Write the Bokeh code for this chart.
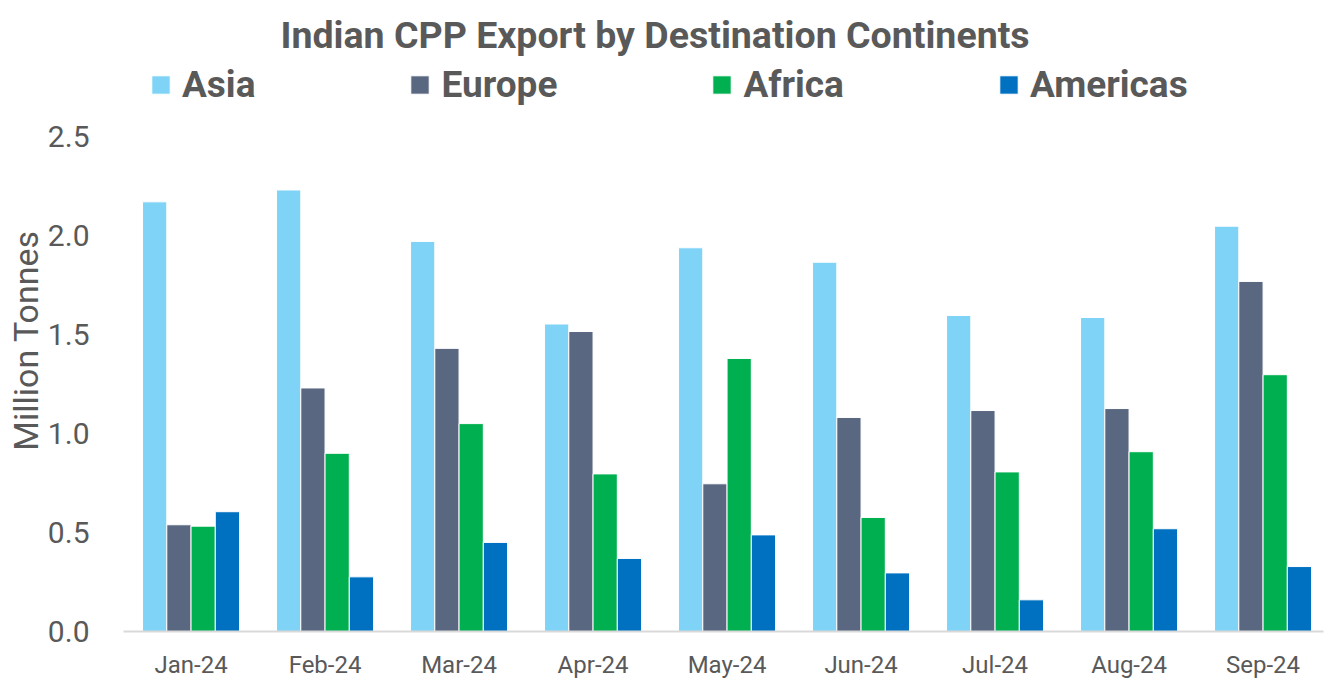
from bokeh.plotting import figure
from bokeh.models import (ColumnDataSource, Range1d, FixedTicker, Legend, LegendItem,
                          PrintfTickFormatter)
from bokeh.transform import dodge
from bokeh.embed import file_html
from bokeh.resources import INLINE

months = ["Jan-24", "Feb-24", "Mar-24", "Apr-24", "May-24", "Jun-24", "Jul-24", "Aug-24", "Sep-24"]
series_names = ["Asia", "Europe", "Africa", "Americas"]
asia = [2.17, 2.23, 1.97, 1.553, 1.938, 1.865, 1.596, 1.586, 2.047]
europe = [0.539, 1.23, 1.43, 1.515, 0.746, 1.081, 1.116, 1.126, 1.768]
africa = [0.532, 0.90, 1.05, 0.796, 1.379, 0.576, 0.806, 0.908, 1.297]
americas = [0.605, 0.276, 0.45, 0.369, 0.488, 0.296, 0.16, 0.519, 0.328]
y_ticks = [0.0, 0.5, 1.0, 1.5, 2.0, 2.5]

colors = ["#7FD3F7", "#596780", "#00B050", "#0070C0"]
TXT = "#595959"

source = ColumnDataSource(dict(idx=list(range(len(months))), month=months, Asia=asia,
                               Europe=europe, Africa=africa, Americas=americas))

p = figure(width=1327, height=683, output_backend="svg", toolbar_location=None,
           x_range=Range1d(-0.504, 8.451), y_range=Range1d(0, 2.9394),
           min_border_left=123, min_border_right=4, min_border_bottom=52, min_border_top=49)

p.title.text = "Indian CPP Export by Destination Continents"
p.title.align = "left"
p.title.offset = 157
p.title.standoff = -14
p.title.text_font = "Roboto"
p.title.text_font_style = "bold"
p.title.text_font_size = "37.5px"
p.title.text_color = TXT

w = 0.181
items = []
for k, (name, c) in enumerate(zip(series_names, colors)):
    r = p.vbar(x=dodge("idx", (k - 1.5) * w, range=p.x_range), top=name, width=w,
               source=source, fill_color=c, line_color="white", line_width=1)
    items.append(LegendItem(label=name, renderers=[r]))

legend = Legend(items=items, orientation="horizontal", location=(26, 525), spacing=153,
                glyph_width=23, glyph_height=23, label_standoff=10,
                label_text_font="Roboto", label_text_font_style="bold",
                label_text_font_size="37px", label_text_color=TXT,
                border_line_alpha=0, background_fill_alpha=0, padding=0, margin=0)
p.add_layout(legend)

p.xgrid.visible = False
p.ygrid.visible = False
p.outline_line_color = None

xa = p.xaxis[0]
xa.ticker = FixedTicker(ticks=list(range(len(months))))
xa.major_label_overrides = {i: m for i, m in enumerate(months)}
xa.axis_line_color = "#D9D9D9"
xa.axis_line_width = 2
xa.major_tick_line_color = None
xa.minor_tick_line_color = None
xa.major_tick_out = 0
xa.major_tick_in = 0
xa.major_label_standoff = 19
xa.major_label_text_font = "Roboto"
xa.major_label_text_font_size = "24px"
xa.major_label_text_color = TXT

ya = p.yaxis[0]
ya.ticker = FixedTicker(ticks=y_ticks)
ya.formatter = PrintfTickFormatter(format="%.1f")
ya.axis_line_color = None
ya.major_tick_line_color = None
ya.minor_tick_line_color = None
ya.major_tick_out = 0
ya.major_tick_in = 0
ya.major_label_standoff = 34
ya.major_label_text_font = "Roboto"
ya.major_label_text_font_size = "30px"
ya.major_label_text_color = TXT
ya.axis_label = "Million Tonnes"
ya.axis_label_text_font = "Roboto"
ya.axis_label_text_font_style = "normal"
ya.axis_label_text_font_size = "34px"
ya.axis_label_text_color = TXT
ya.axis_label_standoff = -1

open("out.html", "w").write(file_html(p, INLINE))
